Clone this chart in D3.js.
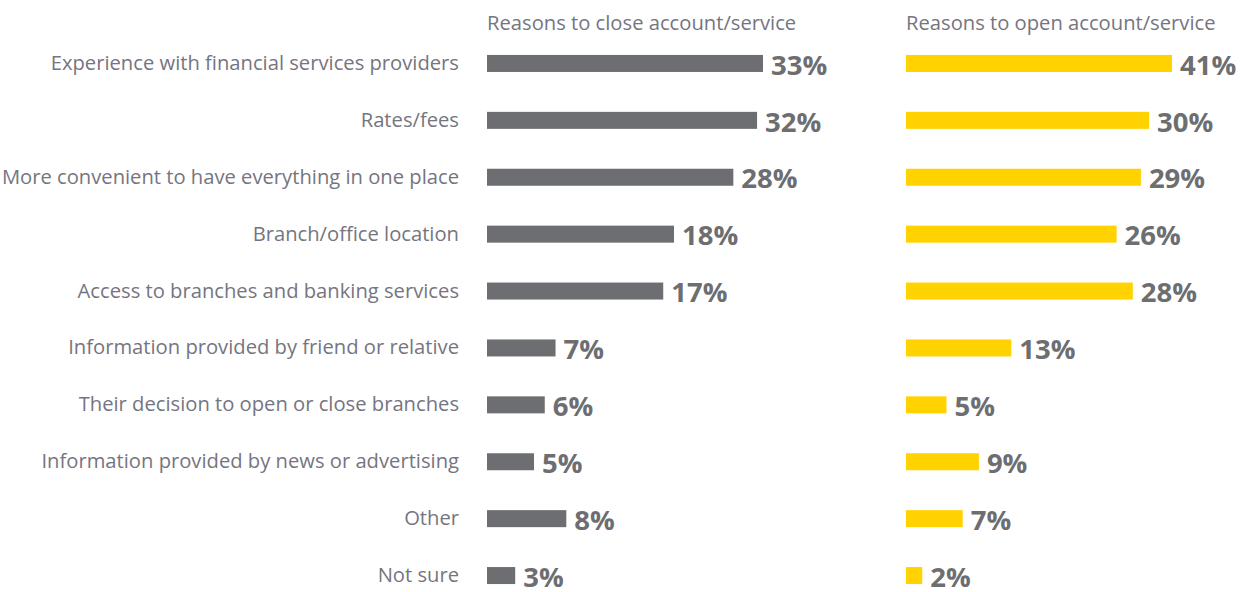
<!DOCTYPE html>
<html><head><meta charset="utf-8">
<script src="https://cdn.jsdelivr.net/npm/d3@7/dist/d3.min.js"></script>
<style>body{margin:0;background:#fff}svg{display:block}</style>
</head><body>
<script>
const categories = [
  "Experience with financial services providers",
  "Rates/fees",
  "More convenient to have everything in one place",
  "Branch/office location",
  "Access to branches and banking services",
  "Information provided by friend or relative",
  "Their decision to open or close branches",
  "Information provided by news or advertising",
  "Other",
  "Not sure"
];
const closeValues = [33, 32, 28, 18, 17, 7, 6, 5, 8, 3];
const openValues  = [41, 30, 29, 26, 28, 13, 5, 9, 7, 2];
const seriesTitles = ["Reasons to close account/service", "Reasons to open account/service"];

const W = 1249, H = 592;
const svg = d3.select("body").append("svg").attr("width", W).attr("height", H);
const font = "'Open Sans', Roboto, sans-serif";

const y = d3.scaleBand().domain(categories).range([35, 604]).paddingInner(0.7).paddingOuter(0.35);
const yc = d => y(d) + y.bandwidth() / 2;

// category labels
svg.append("g").selectAll("text").data(categories).join("text")
  .attr("x", 459).attr("y", d => yc(d) - 1.5)
  .attr("text-anchor", "end").attr("dominant-baseline", "central")
  .attr("font-family", font).attr("font-size", 20.2).attr("fill", "#75757f")
  .text(d => d);

const panels = [
  {x0: 487, values: closeValues, color: "#6d6e71", title: seriesTitles[0],
   scale: d3.scaleLinear().domain([0, 5, 18, 33]).range([0, 47, 187, 276])},
  {x0: 906, values: openValues, color: "#ffd200", title: seriesTitles[1],
   scale: d3.scaleLinear().domain([0, 30, 41]).range([0, 243, 266])}
];

panels.forEach(p => {
  const g = svg.append("g").attr("transform", `translate(${p.x0},0)`);
  g.append("text").attr("x", 0).attr("y", 30)
    .attr("font-family", font).attr("font-size", 20.2).attr("fill", "#75757f")
    .text(p.title);
  const rows = categories.map((c, i) => ({c, v: p.values[i]}));
  g.selectAll("rect").data(rows).join("rect")
    .attr("x", 0).attr("y", d => yc(d.c) - 8.5)
    .attr("width", d => p.scale(d.v)).attr("height", 17)
    .attr("fill", p.color);
  g.selectAll("text.val").data(rows).join("text").attr("class", "val")
    .attr("x", d => p.scale(d.v) + 8).attr("y", d => yc(d.c) + 0.7)
    .attr("dominant-baseline", "central")
    .attr("font-family", font).attr("font-weight", "bold").attr("font-size", 27.5)
    .attr("fill", "#6d6e71")
    .text(d => d.v + "%");
});
</script>
</body></html>
